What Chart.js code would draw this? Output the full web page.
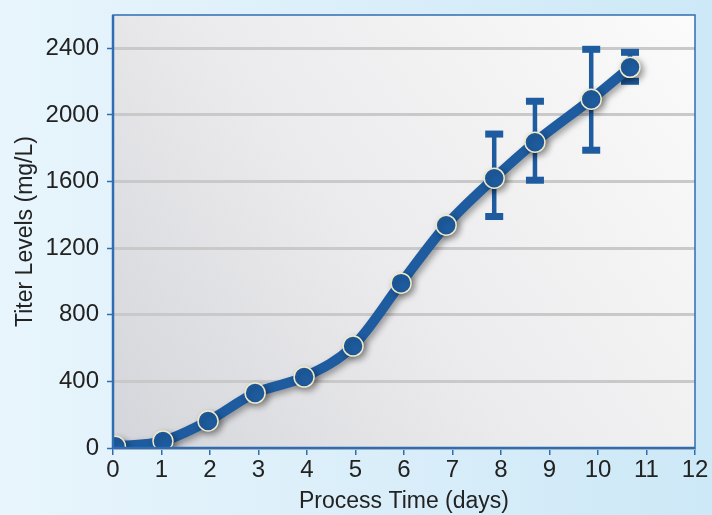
<!DOCTYPE html>
<html>
<head>
<meta charset="utf-8">
<script src="https://cdn.jsdelivr.net/npm/chart.js@4.4.0/dist/chart.umd.min.js"></script>
<style>
  html, body { margin: 0; padding: 0; }
  body { width: 712px; height: 515px; overflow: hidden; }
  #wrap { width: 712px; height: 515px; }
</style>
</head>
<body>
<div id="wrap"><canvas id="titer-chart" width="712" height="515"></canvas></div>
<script>
// Titer data
const days = [0.05, 1.03, 1.96, 2.93, 3.94, 4.95, 5.94, 6.87, 7.86, 8.7, 9.86, 10.66];
const titer = [10, 42, 162, 330, 426, 612, 990, 1338, 1620, 1836, 2094, 2286];
const errLow = [null, null, null, null, null, null, null, null, 1390, 1608, 1788, 2202];
const errHigh = [null, null, null, null, null, null, null, null, 1885, 2082, 2394, 2376];
const yTicks = [0, 400, 800, 1200, 1600, 2000, 2400];

const blue = '#1e5c9f';
const fontFamily = '"Liberation Sans", Arial, sans-serif';

// page and plot backgrounds
const backgroundPlugin = {
    id: 'backgrounds',
    beforeDraw(chart) {
        const { ctx, chartArea: a, width, height } = chart;
        ctx.save();
        let g = ctx.createLinearGradient(0, 0, width, 0);
        g.addColorStop(0, '#e8f5fc');
        g.addColorStop(1, '#cde8f7');
        ctx.fillStyle = g;
        ctx.fillRect(0, 0, width, height);

        g = ctx.createLinearGradient(a.left, a.bottom, a.right, a.top);
        g.addColorStop(0, '#d4d5da');
        g.addColorStop(0.45, '#ebebed');
        g.addColorStop(1, '#fbfbfb');
        ctx.fillStyle = g;
        ctx.fillRect(a.left, a.top, a.right - a.left, a.bottom - a.top);
        ctx.restore();
    },
    afterDraw(chart) {
        const { ctx, chartArea: a } = chart;
        ctx.save();
        ctx.strokeStyle = '#2f6db3';
        ctx.lineWidth = 1.5;
        ctx.strokeRect(a.left, a.top, a.right - a.left, a.bottom - a.top);
        ctx.lineWidth = 2.5;
        ctx.beginPath();
        ctx.moveTo(a.left, a.top);
        ctx.lineTo(a.left, a.bottom);
        ctx.lineTo(a.right, a.bottom);
        ctx.stroke();
        ctx.restore();
    }
};

// error bars, drawn behind the line
const errorBarPlugin = {
    id: 'errorBars',
    beforeDatasetsDraw(chart) {
        const { ctx, scales: { x, y } } = chart;
        ctx.save();
        ctx.strokeStyle = blue;
        ctx.fillStyle = blue;
        ctx.lineWidth = 4.5;
        days.forEach((d, i) => {
            if (errLow[i] === null) return;
            const px = x.getPixelForValue(d);
            const top = y.getPixelForValue(errHigh[i]);
            const bot = y.getPixelForValue(errLow[i]);
            ctx.beginPath();
            ctx.moveTo(px, top);
            ctx.lineTo(px, bot);
            ctx.stroke();
            ctx.fillRect(px - 9, top - 3.5, 18, 7);
            ctx.fillRect(px - 9, bot - 3.5, 18, 7);
        });
        ctx.restore();
    }
};

// soft drop shadow under line and points
const shadowPlugin = {
    id: 'shadow',
    beforeDatasetDraw(chart) {
        const ctx = chart.ctx;
        ctx.save();
        ctx.shadowColor = 'rgba(0,0,0,0.35)';
        ctx.shadowBlur = 6;
        ctx.shadowOffsetX = 3;
        ctx.shadowOffsetY = 3;
    },
    afterDatasetDraw(chart) {
        chart.ctx.restore();
    }
};

new Chart(document.getElementById('titer-chart'), {
    type: 'line',
    data: {
        datasets: [{
            label: 'Titer',
            data: days.map((d, i) => ({ x: d, y: titer[i] })),
            borderColor: blue,
            borderWidth: 10,
            borderCapStyle: 'round',
            borderJoinStyle: 'round',
            tension: 0.35,
            cubicInterpolationMode: 'monotone',
            pointRadius: 10,
            pointBackgroundColor: blue,
            pointBorderColor: '#efeacb',
            pointBorderWidth: 1.5,
            fill: false
        }]
    },
    options: {
        responsive: false,
        animation: false,
        layout: { padding: { top: 15, right: 17, left: 0, bottom: 0 } },
        plugins: {
            legend: { display: false },
            tooltip: { enabled: false }
        },
        scales: {
            x: {
                type: 'linear',
                min: 0,
                max: 12,
                ticks: {
                    stepSize: 1,
                    color: '#222',
                    font: { family: fontFamily, size: 24 },
                    padding: 1
                },
                grid: {
                    drawOnChartArea: false,
                    color: '#2f6db3',
                    tickLength: 7,
                    lineWidth: 1.5
                },
                border: { display: false },
                title: {
                    display: true,
                    text: 'Process Time (days)',
                    color: '#222',
                    font: { family: fontFamily, size: 23 },
                    padding: { top: 0, bottom: 0 }
                },
                afterFit(scale) {
                    scale.height = 67;
                    scale.paddingLeft = 0;
                    scale.paddingRight = 0;
                }
            },
            y: {
                min: 0,
                max: 2600,
                afterBuildTicks(scale) {
                    scale.ticks = yTicks.map(v => ({ value: v }));
                },
                ticks: {
                    color: '#222',
                    font: { family: fontFamily, size: 24 },
                    padding: 8,
                    callback: v => String(v)
                },
                grid: {
                    color: '#c9c9c9',
                    lineWidth: 3,
                    tickLength: 6,
                    tickColor: '#2f6db3',
                    tickWidth: 1.5
                },
                border: { display: false },
                title: {
                    display: true,
                    text: 'Titer Levels (mg/L)',
                    color: '#222',
                    font: { family: fontFamily, size: 23 },
                    padding: { top: 12, bottom: 0 }
                },
                afterFit(scale) {
                    scale.width = 113;
                    scale.paddingTop = 0;
                    scale.paddingBottom = 0;
                }
            }
        }
    },
    plugins: [backgroundPlugin, errorBarPlugin, shadowPlugin]
});
</script>
</body>
</html>
